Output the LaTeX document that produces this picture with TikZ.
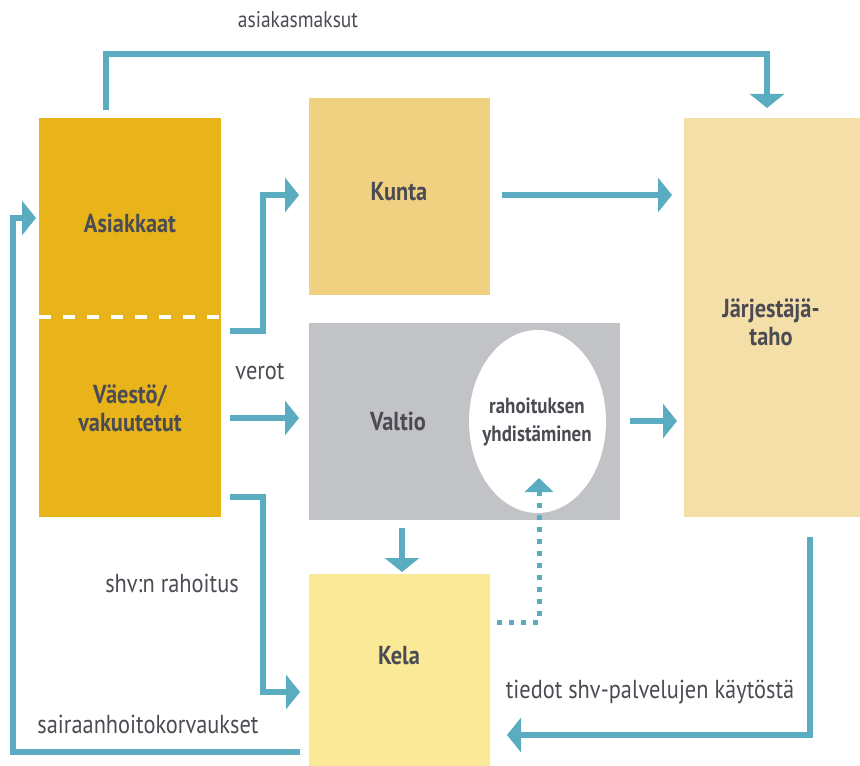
\documentclass[tikz,border=0pt]{standalone}
\usepackage{fontspec}
\setmainfont{PT Sans}[FakeStretch=0.86]
\usetikzlibrary{arrows.meta,fit,calc,shapes.geometric}
\definecolor{flowc}{HTML}{5AADC0}
\definecolor{txtc}{HTML}{4B4B53}
\definecolor{asic}{HTML}{E8B41A}
\definecolor{kuntac}{HTML}{F0D182}
\definecolor{jarc}{HTML}{F5DFA8}
\definecolor{kelac}{HTML}{FAE996}
\definecolor{valc}{HTML}{C2C3C7}
\begin{document}
\begin{tikzpicture}[x=0.75pt,y=-0.75pt,
  box/.style={inner sep=0pt,outer sep=0pt,draw=none},
  title/.style={font=\bfseries\fontsize{19.5}{21}\selectfont,text=txtc,align=center,inner sep=0pt},
  smalltitle/.style={font=\bfseries\fontsize{16.5}{21}\selectfont,text=txtc,align=center,inner sep=0pt},
  lbl/.style={font=\fontsize{19.5}{22}\selectfont,text=txtc,inner sep=0pt},
  flow/.style={line width=4.5pt,draw=flowc,-{Triangle[length=10.5pt,width=25.5pt,fill=flowc]}},
  dotflow/.style={line width=3.75pt,draw=flowc,dash pattern=on 3.75pt off 5.25pt,
    -{Triangle[length=10.5pt,width=21pt,fill=flowc,sep=0pt]}}]
\useasboundingbox (0,0) rectangle (860,766);
% boxes
\node[box,fill=asic,fit={(39,118)(221,317)}] (asi) {};
\node[box,fill=asic,fit={(39,317)(221,517)}] (vae) {};
\node[box,fill=kuntac,fit={(309,98)(490,295)}] (kunta) {};
\node[box,fill=valc,fit={(309,323)(620,520)}] (valtio) {};
\node[box,fill=jarc,fit={(684,118)(860,517)}] (jar) {};
\node[box,fill=kelac,fit={(309,574)(490,766)}] (kela) {};
\node[ellipse,fill=white,inner sep=0pt,minimum width=102.75pt,minimum height=137.25pt] (yhd) at (537.5,421.5) {};
% dashed divider
\draw[white,line width=3pt,dash pattern=on 9pt off 9pt] (asi.south west) -- (asi.south east);
% titles
\node[title] (tasi) at (130,223) {Asiakkaat};
\node[title] (tvae) at (130,408) {Väestö/\\vakuutetut};
\node[title] (tkunta) at (399,192) {Kunta};
\node[title] (tvaltio) at (398,421) {Valtio};
\node[smalltitle] (tyhd) at (537,422) {rahoituksen\\yhdistäminen};
\node[title] (tjar) at (771,322) {Järjestäjä-\\taho};
\node[title] (tkela) at (399,656) {Kela};
% labels
\node[lbl,font=\fontsize{17}{20}\selectfont] (lasm) at (298,20) {asiakasmaksut};
\node[lbl] (lverot) at (260,372) {verot};
\node[lbl] (lshv) at (172,583) {shv:n rahoitus};
\node[lbl] (lsai) at (148,724) {sairaanhoitokorvaukset};
\node[lbl] (ltied) at (650,692) {tiedot shv-palvelujen käytöstä};
% coordinates for free ends
\coordinate (c1) at (106,110);
\coordinate (c2) at (767,108);
% connectors
\draw[flow] (c1) |- (767,54) -- (c2);
\draw[flow] ($(vae.north east)+(9,14)$) -| (263,195) -- ($(kunta.west)+(-10,-1.5)$);
\draw[flow] ($(vae.east)+(9,1)$) -- ($(valtio.west)+(-10,-3.5)$);
\draw[flow] ($(vae.south east)+(9,-20)$) -| (263,692) -- ($(kela.west)+(-9,22)$);
\draw[flow] ($(kela.west)+(-9,82)$) -| (13,218) -- ($(asi.west)+(-3,0.5)$);
\draw[flow] ($(kunta.east)+(12,-1.5)$) -- ($(jar.west)+(-12,-122.5)$);
\draw[flow] ($(valtio.east)+(10,-0.5)$) -- ($(jar.west)+(-7,103.5)$);
\draw[flow] ($(valtio.south)+(-62.5,8)$) -- ($(kela.north)+(2.5,-2)$);
\draw[dotflow] ($(kela.east)+(7,-48)$) -| (539,500) -- (539,478);
\draw[flow] ($(jar.south)+(38,20)$) |- (600,735) -- ($(kela.east)+(17,65)$);
\end{tikzpicture}
\end{document}
